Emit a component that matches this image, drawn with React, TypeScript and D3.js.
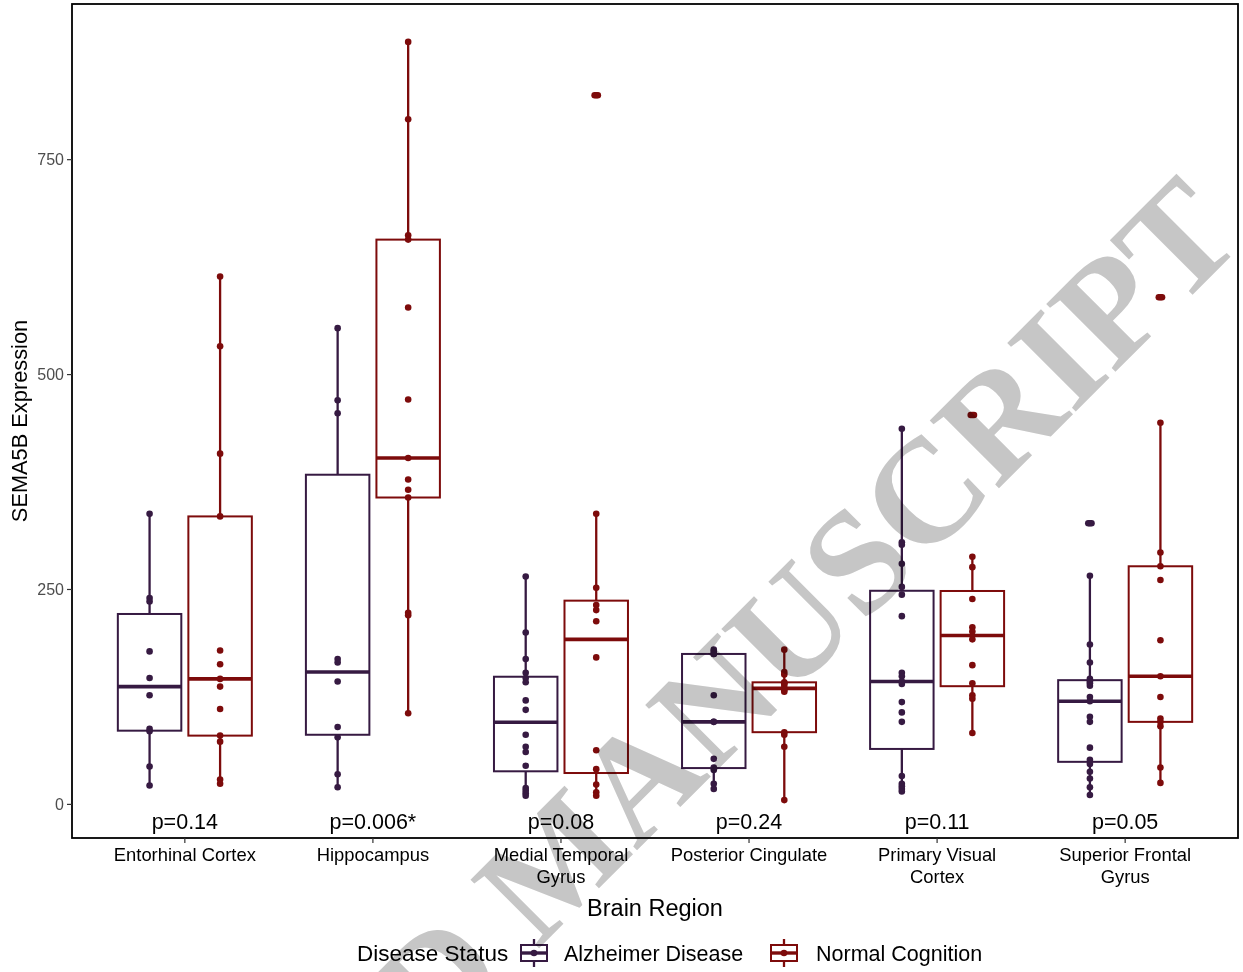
import React from 'react';
import * as d3 from 'd3';

// ---------------- data ----------------
const regions = [
  'Entorhinal Cortex',
  'Hippocampus',
  'Medial Temporal Gyrus',
  'Posterior Cingulate',
  'Primary Visual Cortex',
  'Superior Frontal Gyrus',
];
const regionLabelLines = [
  ['Entorhinal Cortex'],
  ['Hippocampus'],
  ['Medial Temporal', 'Gyrus'],
  ['Posterior Cingulate'],
  ['Primary Visual', 'Cortex'],
  ['Superior Frontal', 'Gyrus'],
];
const pLabels = ['p=0.14', 'p=0.006*', 'p=0.08', 'p=0.24', 'p=0.11', 'p=0.05'];
const statuses = ['Alzheimer Disease', 'Normal Cognition'];
const yTicks = [0, 250, 500, 750];

const adValues = [
  [338, 240, 236, 178, 147, 127, 88, 85, 44, 22],
  [554, 470, 455, 169, 165, 143, 90, 78, 35, 20],
  [265, 200, 169, 153, 147, 142, 121, 110, 81, 67, 61, 45, 19, 16, 13, 10],
  [180, 178, 175, 175, 127, 96, 96, 53, 43, 40, 24, 18],
  [437, 305, 302, 280, 253, 244, 219, 153, 149, 143, 140, 119, 107, 96, 33, 24, 21, 18, 15],
  [327, 266, 186, 165, 146, 143, 141, 138, 125, 120, 102, 96, 66, 52, 47, 38, 30, 20, 11],
];
const ncValues = [
  [614, 533, 408, 335, 179, 163, 146, 137, 111, 80, 73, 29, 24],
  [887, 797, 662, 657, 578, 471, 403, 378, 366, 357, 223, 220, 106],
  [825, 338, 252, 232, 226, 213, 171, 63, 41, 23, 14, 10],
  [180, 154, 151, 142, 141, 139, 135, 133, 131, 84, 81, 67, 5],
  [453, 288, 276, 239, 206, 201, 192, 162, 141, 127, 123, 83],
  [590, 444, 293, 277, 261, 191, 149, 125, 100, 96, 91, 43, 25],
];

// ---------------- layout / style ----------------
const W = 1243;
const H = 972;
const P = { left: 72, right: 1238, top: 4, bottom: 838 };
const COLORS = ['#361a42', '#7d0b0b'];
const FONT = '"Liberation Sans", Arial, Helvetica, sans-serif';

function boxStats(vals: number[]) {
  const s = [...vals].sort(d3.ascending);
  const q1 = d3.quantileSorted(s, 0.25) as number;
  const med = d3.quantileSorted(s, 0.5) as number;
  const q3 = d3.quantileSorted(s, 0.75) as number;
  const iqr = q3 - q1;
  const lo = d3.min(s.filter((v) => v >= q1 - 1.5 * iqr)) as number;
  const hi = d3.max(s.filter((v) => v <= q3 + 1.5 * iqr)) as number;
  const outliers = s.filter((v) => v < lo || v > hi);
  return { q1, med, q3, lo, hi, outliers, s };
}

export default function App() {
  const all = [...adValues.flat(), ...ncValues.flat()];
  const [mn, mx] = d3.extent(all) as [number, number];
  const pad = (mx - mn) * 0.05;
  const y = d3.scaleLinear().domain([mn - pad, mx + pad]).range([P.bottom, P.top]);
  const x = d3.scalePoint<string>().domain(regions).range([P.left, P.right]).padding(0.6);
  const step = x.step();
  const dodge = d3
    .scaleBand<string>()
    .domain(statuses)
    .range([-0.375 * step, 0.375 * step])
    .paddingInner(0.1)
    .paddingOuter(0.05);
  const bw = dodge.bandwidth();
  const series = [adValues, ncValues];

  return (
    <svg
      width={W}
      height={H}
      viewBox={`0 0 ${W} ${H}`}
      style={{ position: 'absolute', left: 0, top: 0, background: '#fff' }}
      fontFamily={FONT}
    >
      <rect x={0} y={0} width={W} height={H} fill="#fff" />

      {/* boxes and points */}
      {regions.map((r, i) =>
        statuses.map((st, k) => {
          const vals = series[k][i];
          const b = boxStats(vals);
          const cx = (x(r) as number) + (dodge(st) as number) + bw / 2;
          const c = COLORS[k];
          return (
            <g key={`${r}-${st}`}>
              <line x1={cx} x2={cx} y1={y(b.q3)} y2={y(b.hi)} stroke={c} strokeWidth={2.3} />
              <line x1={cx} x2={cx} y1={y(b.q1)} y2={y(b.lo)} stroke={c} strokeWidth={2.3} />
              <rect
                x={cx - bw / 2}
                y={y(b.q3)}
                width={bw}
                height={y(b.q1) - y(b.q3)}
                fill="#fff"
                stroke={c}
                strokeWidth={2}
              />
              <line
                x1={cx - bw / 2}
                x2={cx + bw / 2}
                y1={y(b.med)}
                y2={y(b.med)}
                stroke={c}
                strokeWidth={3.6}
              />
              {b.outliers.map((v, j) => (
                <circle key={`o${j}`} cx={cx - 1.6} cy={y(v)} r={3.3} fill={c} />
              ))}
              {b.outliers.map((v, j) => (
                <circle key={`oo${j}`} cx={cx + 1.6} cy={y(v)} r={3.3} fill={c} />
              ))}
              {vals.map((v, j) => (
                <circle key={`p${j}`} cx={cx} cy={y(v)} r={3.3} fill={c} />
              ))}
            </g>
          );
        })
      )}

      {/* p-value labels */}
      {regions.map((r, i) => (
        <text
          key={`p-${r}`}
          x={x(r) as number}
          y={829}
          textAnchor="middle"
          fontSize={21.5}
          fill="#000"
        >
          {pLabels[i]}
        </text>
      ))}

      {/* panel border */}
      <rect
        x={P.left}
        y={P.top}
        width={P.right - P.left}
        height={P.bottom - P.top}
        fill="none"
        stroke="#000"
        strokeWidth={1.8}
      />

      {/* y axis */}
      {yTicks.map((t) => (
        <g key={`yt${t}`}>
          <line x1={P.left - 5} x2={P.left} y1={y(t)} y2={y(t)} stroke="#333" strokeWidth={1.2} />
          <text x={P.left - 8} y={y(t)} dy="0.35em" textAnchor="end" fontSize={16} fill="#4d4d4d">
            {t}
          </text>
        </g>
      ))}
      <text
        transform={`translate(27,${(P.top + P.bottom) / 2}) rotate(-90)`}
        textAnchor="middle"
        fontSize={21.8}
        fill="#000"
      >
        SEMA5B Expression
      </text>

      {/* x axis */}
      {regions.map((r, i) => (
        <g key={`xt${r}`}>
          <line x1={x(r) as number} x2={x(r) as number} y1={P.bottom} y2={P.bottom + 5} stroke="#333" strokeWidth={1.2} />
          {regionLabelLines[i].map((ln, j) => (
            <text
              key={j}
              x={x(r) as number}
              y={861 + j * 21.5}
              textAnchor="middle"
              fontSize={18.4}
              fill="#000"
            >
              {ln}
            </text>
          ))}
        </g>
      ))}
      <text x={(P.left + P.right) / 2} y={916} textAnchor="middle" fontSize={23.5} fill="#000">
        Brain Region
      </text>

      {/* legend */}
      <text x={357} y={961} fontSize={22.5} fill="#000">
        Disease Status
      </text>
      {statuses.map((st, k) => {
        const kx = [520, 770][k];
        const lx = [564, 816][k];
        const c = COLORS[k];
        const cy = 953;
        return (
          <g key={`lg${st}`}>
            <line x1={kx + 14} x2={kx + 14} y1={cy - 14} y2={cy + 14} stroke={c} strokeWidth={2.3} />
            <rect x={kx + 1} y={cy - 8} width={26} height={16} fill="#fff" stroke={c} strokeWidth={2} />
            <line x1={kx + 1} x2={kx + 27} y1={cy} y2={cy} stroke={c} strokeWidth={3.4} />
            <circle cx={kx + 14} cy={cy} r={3.3} fill={c} />
            <text x={lx} y={961} fontSize={21.5} fill="#000">
              {st}
            </text>
          </g>
        );
      })}

      {/* watermark */}
      <text
        transform="translate(1210,204) rotate(-45)"
        textAnchor="end"
        dy="0.35em"
        fontFamily='"Liberation Serif", "DejaVu Serif", serif'
        fontWeight="bold"
        fontSize={148}
        fill="#c6c6c6"
        style={{ mixBlendMode: 'multiply' }}
      >
        ACCEPTED MANUSCRIPT
      </text>
    </svg>
  );
}
